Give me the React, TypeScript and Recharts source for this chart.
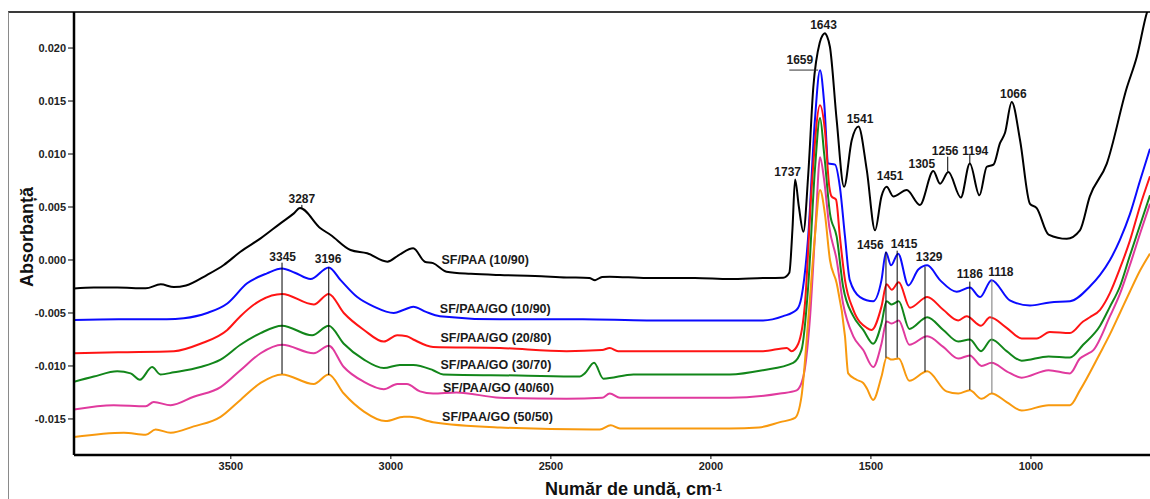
import React from 'react';
import { LineChart, Line, XAxis, YAxis, ReferenceLine, ReferenceDot } from 'recharts';

// ---- Spectra (wavenumber, cm-1 / absorbance) ----
const blackWn = [3990, 3928, 3855, 3766, 3719, 3678, 3640, 3575, 3522, 3470, 3407, 3345, 3303, 3284, 3220, 3188, 3126, 3074, 3011, 2975, 2930, 2894, 2868, 2826, 2750, 2659, 2550, 2451, 2380, 2362, 2340, 2316, 2200, 2050, 1941, 1837, 1774, 1755, 1745, 1737, 1725, 1711, 1696, 1680, 1660, 1651, 1644, 1637, 1628, 1607, 1584, 1560, 1539, 1513, 1487, 1467, 1451, 1430, 1388, 1347, 1305, 1284, 1258, 1219, 1191, 1161, 1138, 1117, 1097, 1081, 1060, 1034, 1003, 982, 945, 888, 847, 816, 763, 701, 669, 638, 628];
const blackAbs = [-0.0027, -0.0026, -0.0026, -0.00267, -0.0023, -0.00255, -0.0024, -0.00142, -0.00047, 0.00078, 0.00204, 0.00346, 0.0044, 0.0049, 0.003, 0.00236, 0.00094, 0.00063, -0.00016, 0.00047, 0.0011, -0.00016, -0.0003, -0.0011, -0.0013, -0.00142, -0.0015, -0.00164, -0.0017, -0.0019, -0.0016, -0.00157, -0.0017, -0.0017, -0.0018, -0.0017, -0.00167, -0.0012, 0.003, 0.0076, 0.005, 0.00267, 0.008, 0.0163, 0.0205, 0.0212, 0.0214, 0.0211, 0.0201, 0.0132, 0.0069, 0.0113, 0.0126, 0.0085, 0.0028, 0.006, 0.0069, 0.006, 0.0066, 0.0052, 0.0084, 0.0072, 0.0083, 0.0059, 0.0091, 0.0061, 0.0088, 0.009, 0.011, 0.012, 0.0149, 0.0113, 0.0053, 0.0049, 0.0024, 0.002, 0.0028, 0.006, 0.0091, 0.0162, 0.0192, 0.0233, 0.0242];

const blueWn = [3990, 3850, 3700, 3647, 3574, 3511, 3449, 3387, 3340, 3300, 3251, 3194, 3157, 3105, 3053, 2991, 2959, 2930, 2890, 2847, 2659, 2400, 2200, 1941, 1837, 1774, 1732, 1717, 1696, 1675, 1659, 1646, 1633, 1612, 1597, 1581, 1566, 1534, 1493, 1467, 1453, 1437, 1415, 1383, 1352, 1324, 1284, 1232, 1191, 1159, 1123, 1066, 1003, 941, 878, 816, 784, 753, 722, 691, 659, 628];
const blueAbs = [-0.00566, -0.0056, -0.0056, -0.0055, -0.005, -0.0041, -0.0022, -0.00126, -0.0008, -0.0012, -0.0018, -0.0007, -0.0019, -0.0035, -0.0044, -0.005, -0.0047, -0.0044, -0.0049, -0.0053, -0.0056, -0.0056, -0.0057, -0.0057, -0.0057, -0.0053, -0.0047, -0.0035, 0.0022, 0.0132, 0.0179, 0.0148, 0.0091, 0.009, 0.0069, 0.0022, -0.0019, -0.0035, -0.0039, -0.0019, 0.0007, -0.0005, 0.0006, -0.0024, -0.0009, -0.0005, -0.0019, -0.003, -0.0026, -0.0035, -0.0019, -0.0038, -0.0043, -0.004, -0.0039, -0.0025, -0.0014, 0.0, 0.0019, 0.0043, 0.0075, 0.0105];

const redWn = [3990, 3850, 3678, 3595, 3511, 3470, 3407, 3340, 3241, 3194, 3147, 3084, 3022, 2980, 2950, 2930, 2868, 2659, 2451, 2340, 2316, 2290, 1941, 1837, 1763, 1748, 1727, 1706, 1685, 1659, 1644, 1630, 1623, 1609, 1597, 1581, 1555, 1513, 1498, 1467, 1451, 1435, 1413, 1378, 1324, 1274, 1227, 1201, 1156, 1128, 1076, 1029, 982, 941, 878, 837, 816, 784, 753, 722, 691, 659, 628];
const redAbs = [-0.0088, -0.0087, -0.0086, -0.0079, -0.0066, -0.0053, -0.0038, -0.0032, -0.0042, -0.0032, -0.005, -0.0066, -0.0077, -0.0071, -0.0072, -0.0075, -0.0082, -0.0083, -0.0086, -0.0085, -0.0083, -0.0086, -0.0086, -0.0086, -0.0083, -0.0086, -0.0079, -0.0041, 0.0069, 0.0146, 0.0123, 0.0069, 0.006, 0.0057, 0.0022, -0.0019, -0.0047, -0.0064, -0.0066, -0.0044, -0.0023, -0.0028, -0.0021, -0.0045, -0.0035, -0.0047, -0.0057, -0.0053, -0.0062, -0.0054, -0.0064, -0.0074, -0.0074, -0.0068, -0.0069, -0.0058, -0.0054, -0.0047, -0.0031, -0.0008, 0.0018, 0.0051, 0.0079];

const greenWn = [3990, 3928, 3855, 3813, 3784, 3746, 3720, 3678, 3595, 3532, 3470, 3407, 3340, 3246, 3194, 3147, 3084, 3022, 2972, 2930, 2868, 2836, 2600, 2409, 2394, 2365, 2336, 2242, 1941, 1837, 1743, 1717, 1696, 1675, 1659, 1646, 1628, 1607, 1587, 1555, 1524, 1493, 1467, 1451, 1435, 1413, 1380, 1324, 1274, 1227, 1191, 1156, 1123, 1076, 1029, 945, 878, 837, 784, 753, 722, 691, 659, 628];
const greenAbs = [-0.0115, -0.011, -0.0105, -0.0107, -0.0113, -0.0101, -0.0108, -0.0106, -0.0101, -0.0094, -0.008, -0.0069, -0.0062, -0.0071, -0.0062, -0.0079, -0.0094, -0.0102, -0.0099, -0.0099, -0.0104, -0.0108, -0.0109, -0.011, -0.0107, -0.0097, -0.0112, -0.0108, -0.0108, -0.0104, -0.0097, -0.0085, -0.0025, 0.0085, 0.0134, 0.01, 0.0044, 0.0022, -0.0025, -0.0053, -0.0066, -0.0079, -0.006, -0.0039, -0.0042, -0.0039, -0.0065, -0.0054, -0.0066, -0.0077, -0.0075, -0.0086, -0.0075, -0.0086, -0.0095, -0.0091, -0.0092, -0.008, -0.0062, -0.0044, -0.0025, 0.0004, 0.0033, 0.0061];

const magentaWn = [3990, 3866, 3766, 3741, 3688, 3616, 3532, 3470, 3407, 3340, 3241, 3194, 3147, 3084, 3022, 2980, 2950, 2909, 2868, 2795, 2659, 2451, 2340, 2316, 2284, 1941, 1784, 1732, 1711, 1691, 1672, 1659, 1646, 1630, 1607, 1587, 1555, 1524, 1493, 1467, 1451, 1435, 1413, 1380, 1324, 1274, 1227, 1191, 1154, 1123, 1076, 1029, 945, 878, 847, 826, 805, 753, 722, 691, 659, 628];
const magentaAbs = [-0.0141, -0.0137, -0.0138, -0.0134, -0.0137, -0.0129, -0.012, -0.0104, -0.0088, -0.008, -0.0088, -0.0081, -0.0101, -0.0115, -0.0122, -0.0117, -0.0117, -0.0124, -0.0126, -0.0125, -0.013, -0.0131, -0.013, -0.0126, -0.013, -0.013, -0.0126, -0.0123, -0.011, -0.0057, 0.0038, 0.0097, 0.0075, 0.0031, 0.0, -0.0041, -0.0072, -0.0085, -0.0101, -0.0079, -0.0058, -0.006, -0.0057, -0.008, -0.0072, -0.0082, -0.0093, -0.009, -0.01, -0.0097, -0.0105, -0.0111, -0.0104, -0.0107, -0.0093, -0.0089, -0.0085, -0.0053, -0.0032, -0.0005, 0.0025, 0.0053];

const orangeWn = [3990, 3834, 3766, 3735, 3688, 3616, 3532, 3470, 3407, 3340, 3241, 3194, 3147, 3084, 3017, 2959, 2941, 2868, 2659, 2368, 2347, 2313, 2284, 1941, 1850, 1784, 1737, 1717, 1696, 1675, 1659, 1644, 1628, 1607, 1581, 1571, 1545, 1524, 1513, 1493, 1467, 1451, 1435, 1413, 1380, 1324, 1264, 1227, 1191, 1154, 1123, 1076, 1029, 945, 878, 847, 784, 753, 722, 691, 659, 628];
const orangeAbs = [-0.0167, -0.0163, -0.0165, -0.016, -0.0163, -0.0157, -0.0148, -0.0132, -0.0116, -0.0108, -0.0117, -0.0108, -0.0126, -0.0143, -0.0152, -0.0148, -0.0148, -0.0153, -0.0158, -0.016, -0.016, -0.0156, -0.0159, -0.0159, -0.0158, -0.0153, -0.0149, -0.0129, -0.0057, 0.0022, 0.0066, 0.0044, 0.0, -0.0022, -0.0072, -0.0107, -0.0113, -0.0116, -0.0121, -0.0132, -0.011, -0.0092, -0.0094, -0.0093, -0.0114, -0.0105, -0.0124, -0.0126, -0.0123, -0.0131, -0.0126, -0.0134, -0.0142, -0.0137, -0.0137, -0.0123, -0.0088, -0.007, -0.005, -0.003, -0.001, 0.0006];

// ---- Axis ticks ----
const xTicks = [3500, 3000, 2500, 2000, 1500, 1000];
const yTicks = [-0.015, -0.01, -0.005, 0, 0.005, 0.01, 0.015, 0.02];

// ---- Series ----
const seriesNames = ['SF/PAA (10/90)', 'SF/PAA/GO (10/90)', 'SF/PAA/GO (20/80)', 'SF/PAA/GO (30/70)', 'SF/PAA/GO (40/60)', 'SF/PAA/GO (50/50)'];
const seriesColors = ['#000000', '#0b0bff', '#ff1414', '#12861a', '#e03a9e', '#f8990e'];
const seriesWn = [blackWn, blueWn, redWn, greenWn, magentaWn, orangeWn];
const seriesAbs = [blackAbs, blueAbs, redAbs, greenAbs, magentaAbs, orangeAbs];

// ---- In-plot annotations (data coordinates) ----
const seriesLabelWn = [2842, 2847, 2845, 2845, 2837, 2840];
const seriesLabelAbs = [0.0, -0.00462, -0.00736, -0.00991, -0.01205, -0.01481];

const peakTexts = ['3287', '3345', '3196', '1643', '1659', '1737', '1541', '1451', '1305', '1256', '1194', '1066', '1456', '1415', '1329', '1186', '1118'];
const peakTextWn = [3278, 3338, 3196, 1648, 1722, 1760, 1534, 1440, 1341, 1268, 1174, 1055, 1502, 1396, 1318, 1191, 1094];
const peakTextAbs = [0.00575, 0.00031, 0.00016, 0.02217, 0.01887, 0.00833, 0.01337, 0.00792, 0.00912, 0.01028, 0.01031, 0.01573, 0.00142, 0.00151, 0.00031, -0.00126, -0.0011];

const markerWn = [3278, 3340, 3194, 1260, 1191, 1453, 1418, 1331, 1191, 1122];
const markerTop = [0.0052, -0.00025, -0.00069, 0.00975, 0.0099, 0.00078, 0.00088, -0.00063, -0.00204, -0.00189];
const markerBottom = [0.0049, -0.01075, -0.01085, 0.00833, 0.00912, -0.00922, -0.00922, -0.01054, -0.01226, -0.01258];
const markerColors = ['#000', '#000', '#000', '#000', '#000', '#000', '#000', '#000', '#000', '#777'];
const hMarker = { wFrom: 1755, wTo: 1665, abs: 0.01792 };

const FONT = '"Liberation Sans", Arial, sans-serif';

export default function App() {
  const series = seriesNames.map((name, i) => ({
    name,
    color: seriesColors[i],
    data: seriesWn[i].map((w, j) => ({ w, a: seriesAbs[i][j] })),
  }));

  return (
    <div style={{ position: 'absolute', left: 0, top: 0, width: 1150, height: 499, background: '#fff', overflow: 'hidden', fontFamily: FONT }}>
      <div style={{ position: 'absolute', left: 8, top: 11, width: 1150, height: 500, borderTop: '2px solid #3a3a3a', borderLeft: '1px solid #8a8a8a', boxSizing: 'border-box' }} />
      <div style={{ position: 'absolute', left: 0, top: 0 }}>
        <LineChart width={1150} height={499} margin={{ top: 12, right: 0, bottom: 19, left: 0 }}>
          <XAxis
            type="number"
            dataKey="w"
            domain={[628, 3990]}
            reversed
            allowDataOverflow
            ticks={xTicks}
            height={25}
            tickSize={4}
            tickMargin={3}
            axisLine={{ stroke: '#000', strokeWidth: 2.5 }}
            tickLine={{ stroke: '#000' }}
            tick={{ fill: '#222', fontSize: 11, fontWeight: 'bold', fontFamily: FONT }}
          />
          <YAxis
            type="number"
            domain={[-0.0184, 0.0234]}
            allowDataOverflow
            ticks={yTicks}
            width={74}
            tickSize={6}
            tickMargin={2}
            tickFormatter={(v: number) => v.toFixed(3)}
            axisLine={{ stroke: '#000', strokeWidth: 2.5 }}
            tickLine={{ stroke: '#000' }}
            tick={{ fill: '#222', fontSize: 11, fontWeight: 'bold', fontFamily: FONT }}
          />
          {series.map((s) => (
            <Line
              key={s.name}
              data={s.data}
              dataKey="a"
              type="monotone"
              stroke={s.color}
              strokeWidth={2}
              dot={false}
              activeDot={false}
              isAnimationActive={false}
            />
          ))}
          {markerWn.map((w, i) => (
            <ReferenceLine
              key={'m' + i}
              segment={[{ x: w, y: markerTop[i] }, { x: w, y: markerBottom[i] }]}
              stroke={markerColors[i]}
              strokeWidth={1}
            />
          ))}
          <ReferenceLine
            segment={[{ x: hMarker.wFrom, y: hMarker.abs }, { x: hMarker.wTo, y: hMarker.abs }]}
            stroke="#333"
            strokeWidth={1}
          />
          {peakTexts.map((t, i) => (
            <ReferenceDot
              key={'p' + i}
              x={peakTextWn[i]}
              y={peakTextAbs[i]}
              r={0}
              fill="none"
              stroke="none"
              label={{ value: t, position: 'center', fill: '#1a1a1a', fontSize: 12, fontWeight: 'bold', fontFamily: FONT }}
            />
          ))}
          {seriesNames.map((t, i) => (
            <ReferenceDot
              key={'s' + i}
              x={seriesLabelWn[i]}
              y={seriesLabelAbs[i]}
              r={0}
              fill="none"
              stroke="none"
              label={{ value: t, position: 'right', offset: 0, fill: '#1a1a1a', fontSize: 12.5, fontWeight: 'bold', fontFamily: FONT }}
            />
          ))}
        </LineChart>
      </div>
      <div style={{ position: 'absolute', left: 27, top: 237, transform: 'translate(-50%, -50%) rotate(-90deg)', whiteSpace: 'nowrap', fontSize: 18, lineHeight: '18px', fontWeight: 'bold', color: '#111' }}>
        Absorbanță
      </div>
      <div style={{ position: 'absolute', left: 545, top: 480, whiteSpace: 'nowrap', fontSize: 18, lineHeight: '18px', fontWeight: 'bold', color: '#111' }}>
        Număr de undă, cm<sup style={{ fontSize: 11, verticalAlign: 'top', position: 'relative', top: -2 }}>-1</sup>
      </div>
    </div>
  );
}
